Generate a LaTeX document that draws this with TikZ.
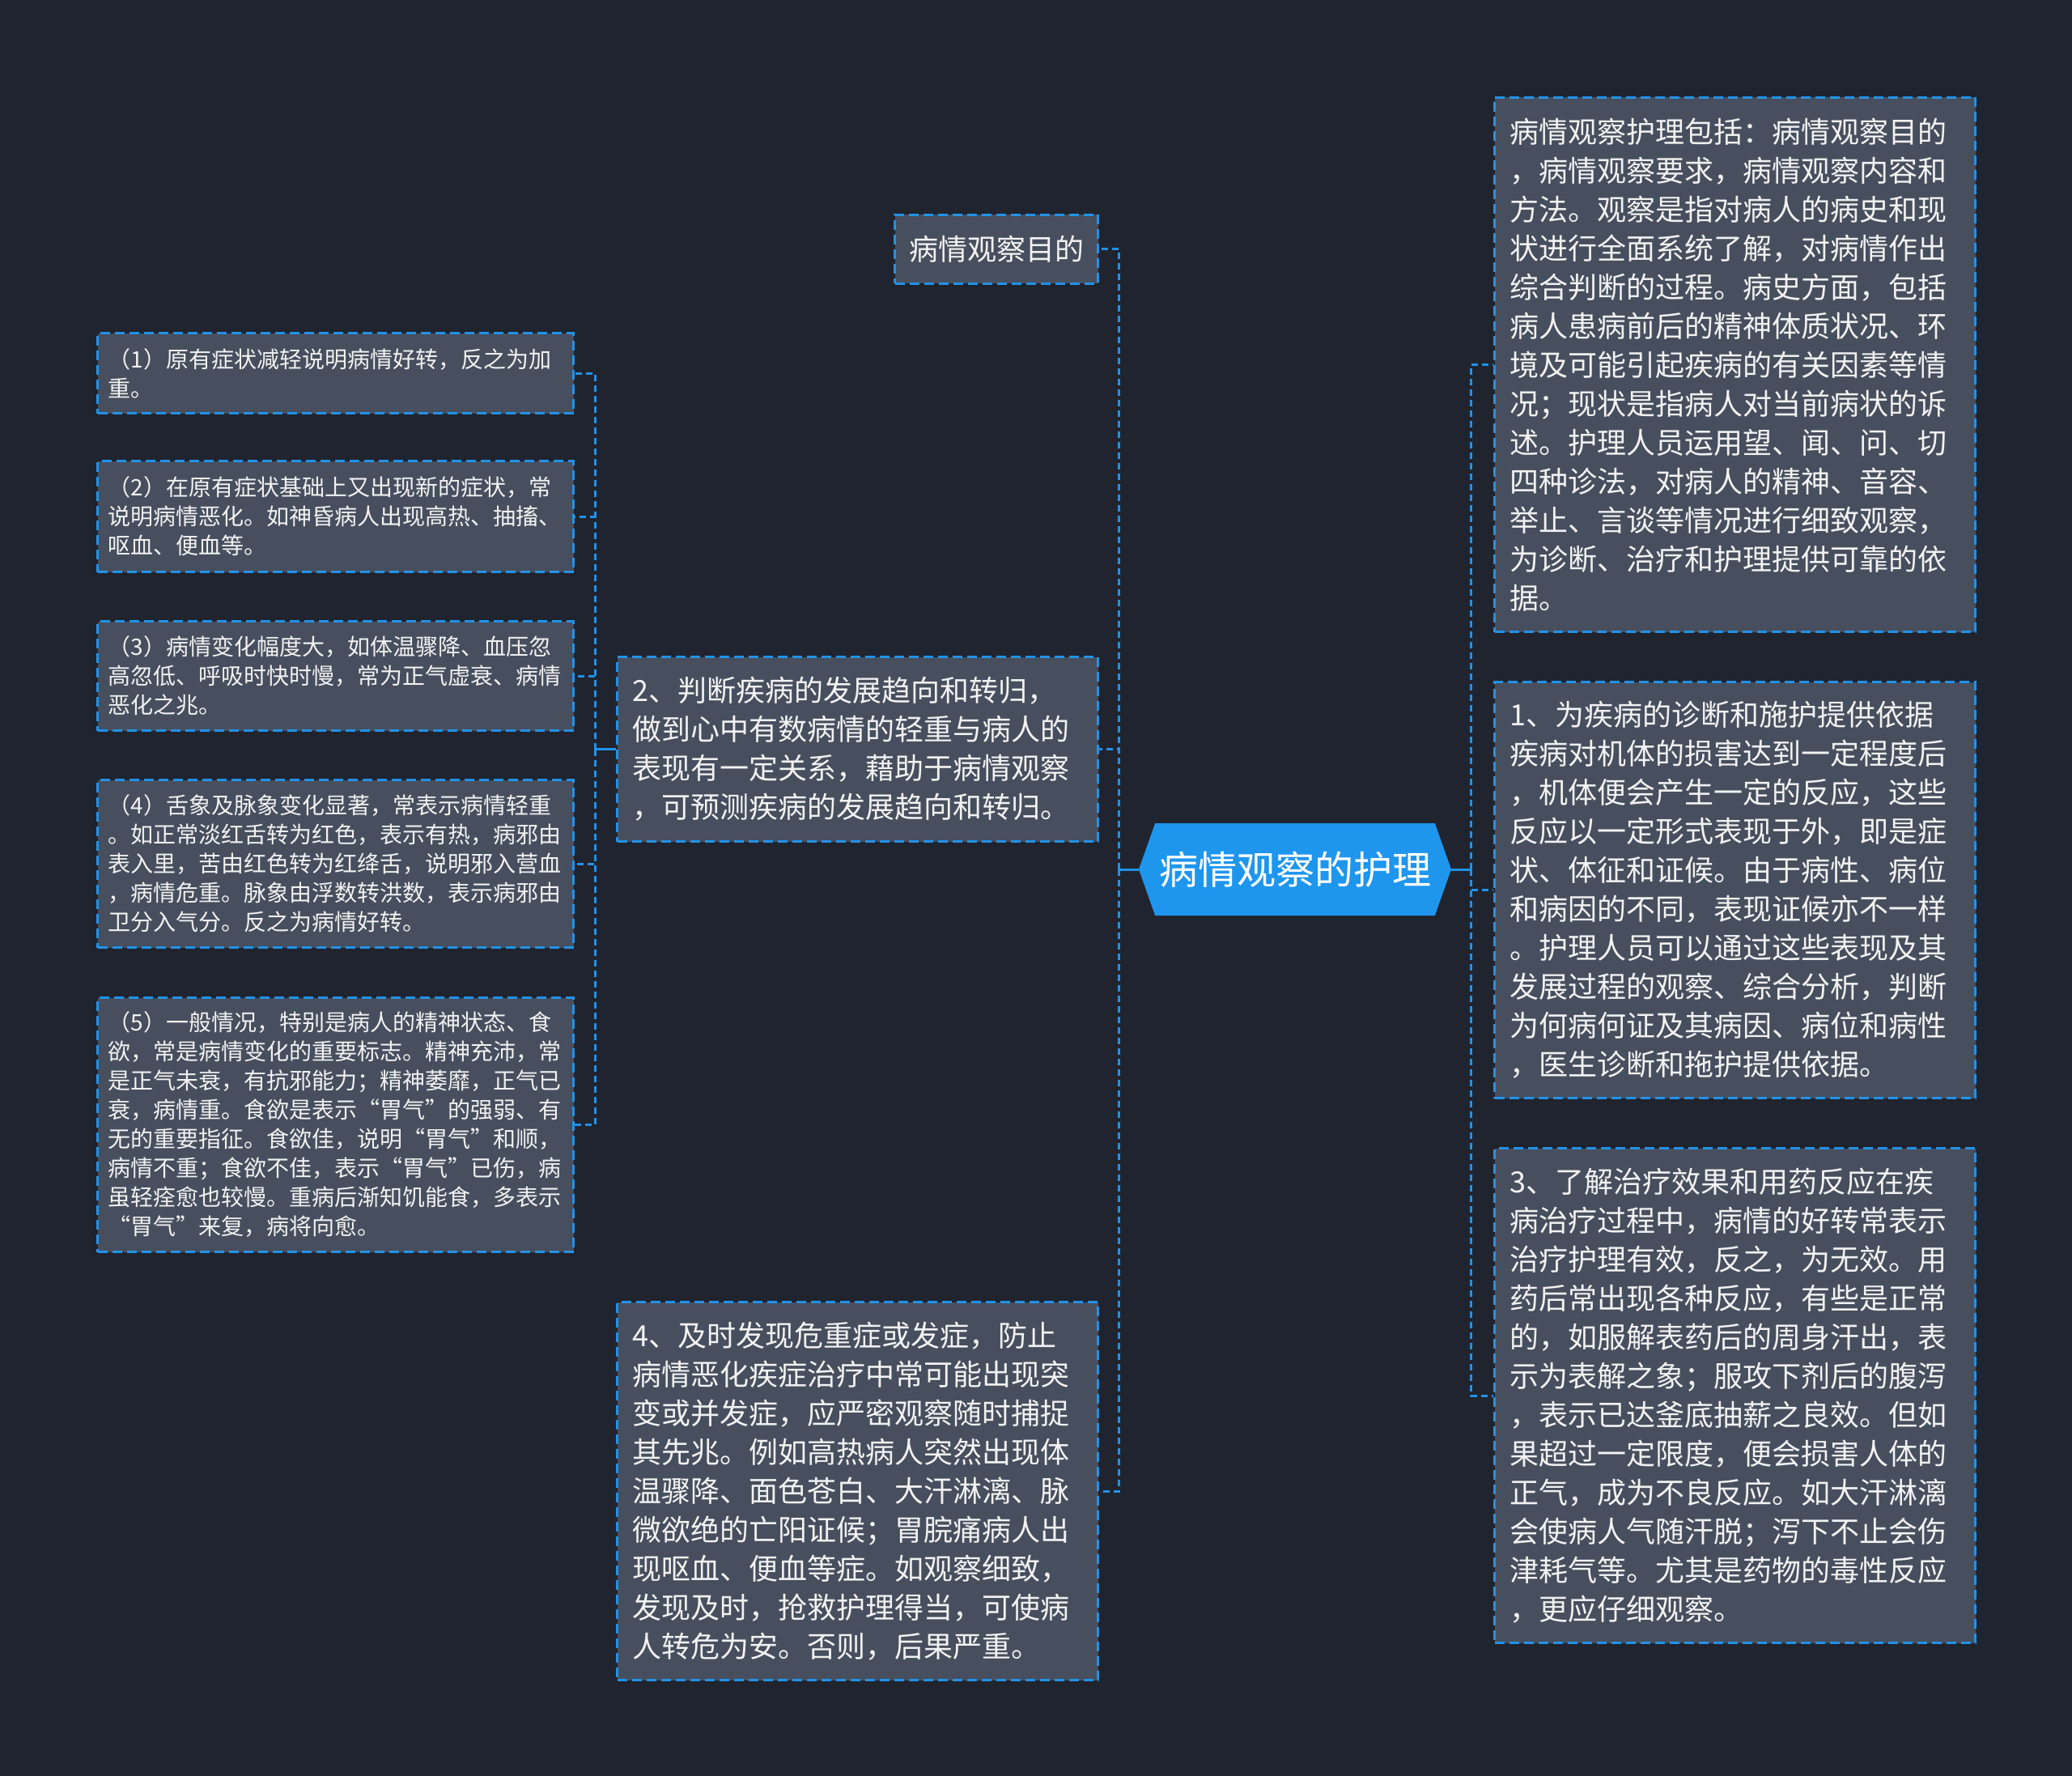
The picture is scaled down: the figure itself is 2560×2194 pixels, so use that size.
\documentclass[tikz,border=0pt]{standalone}
\usepackage{fontspec}
\setmainfont{Noto Sans CJK SC}
\usetikzlibrary{calc,positioning,shapes.symbols}
\definecolor{bgdark}{HTML}{20242F}
\definecolor{cardfill}{HTML}{474F5E}
\definecolor{edgeblue}{HTML}{2192E8}
\definecolor{hubblue}{HTML}{1E96EE}
\definecolor{inktext}{HTML}{F2F2F2}

\begin{document}
\begin{tikzpicture}[
  x=0.5pt, y=-0.5pt,
  card/.style={draw=edgeblue,fill=cardfill,line width=1.5pt,dash pattern=on 6pt off 3pt,
    text=inktext,anchor=north west,align=left,inner ysep=0pt,inner xsep=9.5pt,
    text width=278pt,font=\fontsize{18}{24}\selectfont},
  smallcard/.style={card,inner xsep=6.5pt,text width=281pt,font=\fontsize{14}{18}\selectfont},
  hub/.style={shape=signal,signal to=west and east,signal pointer angle=141,fill=hubblue,
    minimum width=193pt,minimum height=57pt,inner sep=0pt,text=white,
    font=\fontsize{24}{30}\selectfont},
  link/.style={draw=edgeblue,line width=1.5pt,dash pattern=on 4pt off 2.5pt},
  stub/.style={draw=edgeblue,line width=1.5pt}
]
  \fill[bgdark] (0,0) rectangle (2560,2194);

  % centre
  \node[hub] (hub) at (1600,1074) {病情观察的护理};

  % right column
  \node[card,minimum height=330pt] (summary) at (1845,119) {%
    病情观察护理包括：病情观察目的\\
    ，病情观察要求，病情观察内容和\\
    方法。观察是指对病人的病史和现\\
    状进行全面系统了解，对病情作出\\
    综合判断的过程。病史方面，包括\\
    病人患病前后的精神体质状况、环\\
    境及可能引起疾病的有关因素等情\\
    况；现状是指病人对当前病状的诉\\
    述。护理人员运用望、闻、问、切\\
    四种诊法，对病人的精神、音容、\\
    举止、言谈等情况进行细致观察，\\
    为诊断、治疗和护理提供可靠的依\\
    据。};
  \node[card,minimum height=257pt] (basis) at (1845,841) {%
    1、为疾病的诊断和施护提供依据\\
    疾病对机体的损害达到一定程度后\\
    ，机体便会产生一定的反应，这些\\
    反应以一定形式表现于外，即是症\\
    状、体征和证候。由于病性、病位\\
    和病因的不同，表现证候亦不一样\\
    。护理人员可以通过这些表现及其\\
    发展过程的观察、综合分析，判断\\
    为何病何证及其病因、病位和病性\\
    ，医生诊断和拖护提供依据。};
  \node[card,minimum height=305.5pt] (effect) at (1845,1417) {%
    3、了解治疗效果和用药反应在疾\\
    病治疗过程中，病情的好转常表示\\
    治疗护理有效，反之，为无效。用\\
    药后常出现各种反应，有些是正常\\
    的，如服解表药后的周身汗出，表\\
    示为表解之象；服攻下剂后的腹泻\\
    ，表示已达釜底抽薪之良效。但如\\
    果超过一定限度，便会损害人体的\\
    正气，成为不良反应。如大汗淋漓\\
    会使病人气随汗脱；泻下不止会伤\\
    津耗气等。尤其是药物的毒性反应\\
    ，更应仔细观察。};

  % middle column
  \node[card,text width=108pt,inner xsep=8.75pt,minimum height=42.5pt] (purpose) at (1104,264) {病情观察目的};
  \node[card,minimum height=114pt] (judge) at (761,810) {%
    2、判断疾病的发展趋向和转归，\\
    做到心中有数病情的轻重与病人的\\
    表现有一定关系，藉助于病情观察\\
    ，可预测疾病的发展趋向和转归。};
  \node[card,minimum height=233.5pt] (danger) at (761,1607) {%
    4、及时发现危重症或发症，防止\\
    病情恶化疾症治疗中常可能出现突\\
    变或并发症，应严密观察随时捕捉\\
    其先兆。例如高热病人突然出现体\\
    温骤降、面色苍白、大汗淋漓、脉\\
    微欲绝的亡阳证候；胃脘痛病人出\\
    现呕血、便血等症。如观察细致，\\
    发现及时，抢救护理得当，可使病\\
    人转危为安。否则，后果严重。};

  % left column
  \node[smallcard,minimum height=49.5pt] (sym1) at (119,410) {%
    （1）原有症状减轻说明病情好转，反之为加\\
    重。};
  \node[smallcard,minimum height=68.5pt] (sym2) at (119,568) {%
    （2）在原有症状基础上又出现新的症状，常\\
    说明病情恶化。如神昏病人出现高热、抽搐、\\
    呕血、便血等。};
  \node[smallcard,minimum height=67.5pt] (sym3) at (119,766) {%
    （3）病情变化幅度大，如体温骤降、血压忽\\
    高忽低、呼吸时快时慢，常为正气虚衰、病情\\
    恶化之兆。};
  \node[smallcard,minimum height=103.5pt] (sym4) at (119,962) {%
    （4）舌象及脉象变化显著，常表示病情轻重\\
    。如正常淡红舌转为红色，表示有热，病邪由\\
    表入里，苦由红色转为红绛舌，说明邪入营血\\
    ，病情危重。脉象由浮数转洪数，表示病邪由\\
    卫分入气分。反之为病情好转。};
  \node[smallcard,minimum height=157pt] (sym5) at (119,1231) {%
    （5）一般情况，特别是病人的精神状态、食\\
    欲，常是病情变化的重要标志。精神充沛，常\\
    是正气未衰，有抗邪能力；精神萎靡，正气已\\
    衰，病情重。食欲是表示“胃气”的强弱、有\\
    无的重要指征。食欲佳，说明“胃气”和顺，\\
    病情不重；食欲不佳，表示“胃气”已伤，病\\
    虽轻痊愈也较慢。重病后渐知饥能食，多表示\\
    “胃气”来复，病将向愈。};

  % connectors
  \coordinate (hubL) at ($(hub.west)+(-24,0)$);
  \coordinate (hubR) at ($(hub.east)+(24,0)$);
  \coordinate (judgeL) at ($(judge.west)+(-26,0)$);
  \draw[stub] (hub.west) -- (hubL);
  \draw[stub] (hub.east) -- (hubR);
  \draw[stub] (judge.west) -- (judgeL);
  \foreach \n in {purpose,judge,danger}
    \draw[link] (hubL) |- (\n.east);
  \foreach \n in {summary,basis,effect}
    \draw[link] (hubR) |- (\n.west);
  \foreach \n in {sym1,sym2,sym3,sym4,sym5}
    \draw[link] (judgeL) |- (\n.east);
\end{tikzpicture}
\end{document}
